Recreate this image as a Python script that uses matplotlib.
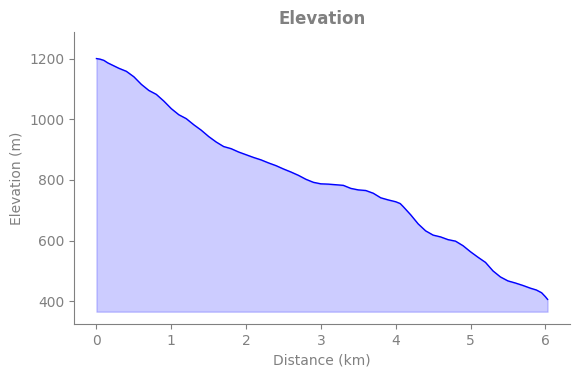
import matplotlib
matplotlib.use("Agg")
import matplotlib.pyplot as plt
import numpy as np

distance_km = [0.0, 0.05, 0.1, 0.15, 0.2, 0.3, 0.4, 0.5, 0.6, 0.7, 0.8, 0.9, 1.0, 1.1, 1.2, 1.3, 1.4,
               1.5, 1.6, 1.7, 1.8, 1.9, 2.0, 2.1, 2.2, 2.3, 2.4, 2.5, 2.6, 2.7, 2.8, 2.9,
               3.0, 3.1, 3.2, 3.3, 3.4, 3.5, 3.6, 3.7, 3.8, 3.9, 4.0, 4.06, 4.1, 4.2, 4.3,
               4.4, 4.5, 4.6, 4.7, 4.8, 4.9, 5.0, 5.1, 5.2, 5.3, 5.4, 5.5, 5.6, 5.7,
               5.8, 5.88, 5.95, 6.0, 6.03]
elevation_m = [1200, 1198, 1194, 1186, 1180, 1168, 1158, 1140, 1115, 1095, 1082, 1060, 1035, 1015,
               1002, 982, 964, 943, 925, 910, 903, 892, 883, 874, 866, 856, 847, 836,
               826, 815, 802, 792, 787, 786, 784, 782, 772, 767, 765, 756, 741, 734,
               728, 722, 712, 685, 655, 632, 618, 612, 603, 598, 583, 563, 545, 528,
               500, 480, 467, 460, 452, 443, 437, 428, 415, 406]

title = "Elevation"
x_label = "Distance (km)"
y_label = "Elevation (m)"

gray = "#808080"
fig = plt.figure(figsize=(5.8, 3.78), dpi=100)
ax = fig.add_axes([74/580, 1-324/378, (570-74)/580, (324-32)/378])

x = np.array(distance_km)
y = np.array(elevation_m)
base = y.min() * 0.9
ax.fill_between(x, y, base, color="blue", alpha=0.2)
ax.plot(x, y, color="blue", linewidth=1)

ax.set_xlim(-0.30, 6.33)
ax.set_ylim(y.min() * 0.8, y.max() * 1.073)
ax.set_yticks([400, 600, 800, 1000, 1200])
ax.set_xticks([0, 1, 2, 3, 4, 5, 6])

for s in ["top", "right"]:
    ax.spines[s].set_visible(False)
for s in ["left", "bottom"]:
    ax.spines[s].set_color(gray)
ax.tick_params(colors=gray, labelcolor=gray, labelsize=10)
ax.set_xlabel(x_label, color=gray, fontsize=10)
ax.set_ylabel(y_label, color=gray, fontsize=10)
ax.set_title(title, color=gray, fontsize=12, fontweight="bold")

fig.savefig("out.png", dpi=100)
